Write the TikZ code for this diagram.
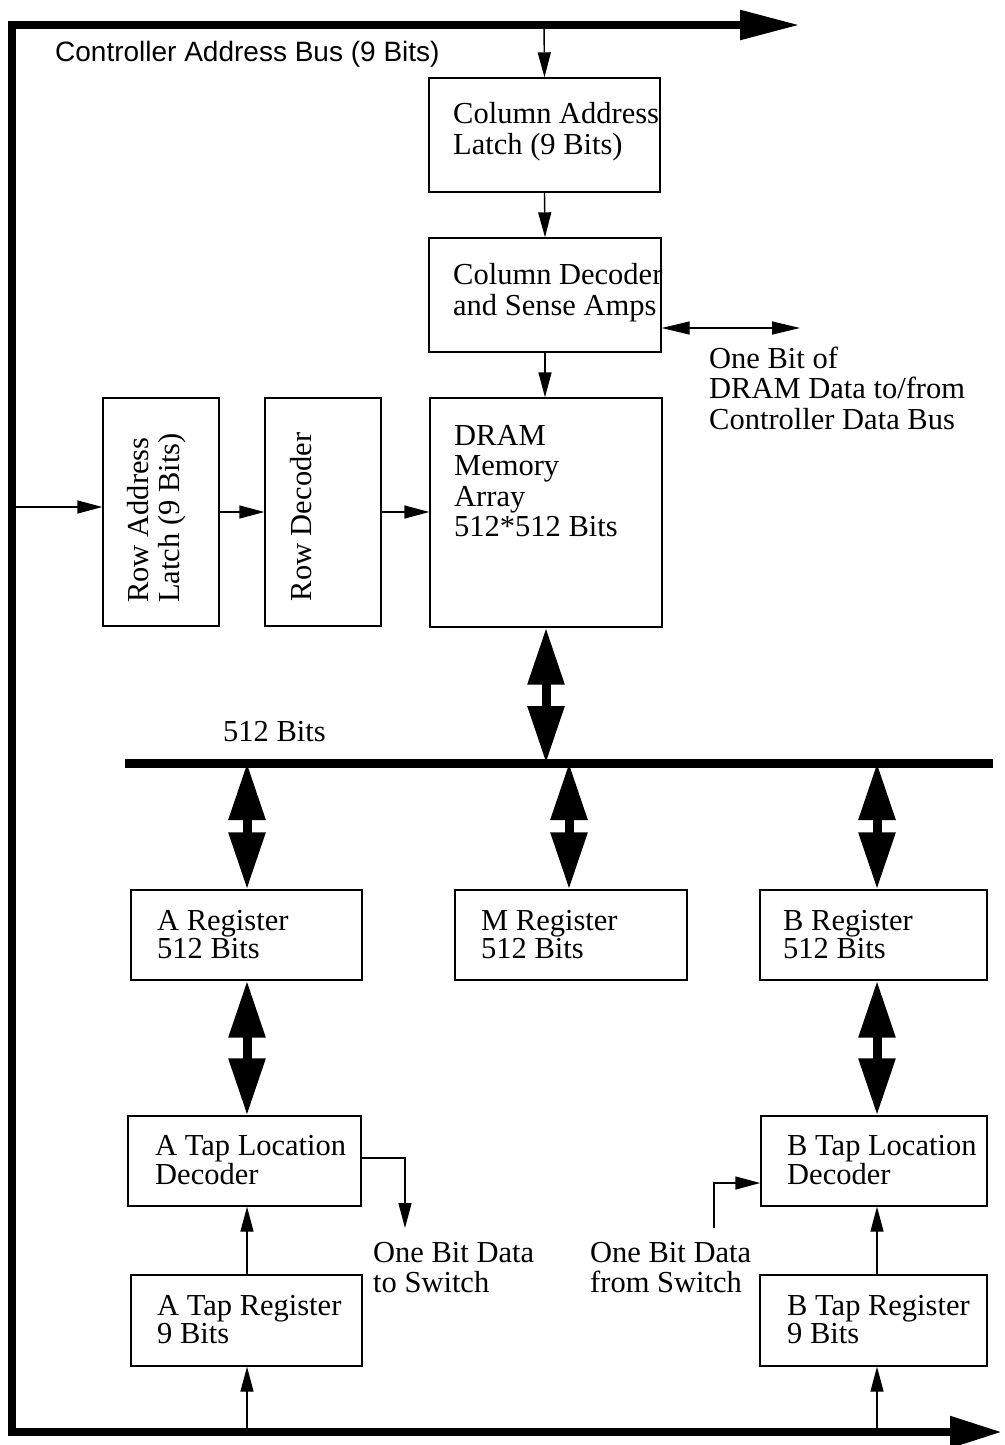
\documentclass[tikz,border=0pt]{standalone}
\usepackage{fontspec}
\setmainfont{Liberation Serif}
\newfontfamily\busfont{Liberation Sans}
\usetikzlibrary{arrows.meta,calc}

% Multi-line labels are anchored at the baseline of their last line.
\tikzset{
  box/.style={draw, line width=1.4pt, inner sep=0pt},
  lbl/.style={inner sep=0pt, anchor=base west, align=left,
              font=\fontsize{30.5}{30.5}\selectfont},
  reglbl/.style={lbl, font=\fontsize{30.5}{24}\selectfont},
  rotlbl/.style={inner sep=0pt, rotate=90, align=left,
                 font=\fontsize{30.5}{31}\selectfont},
  arr/.style={line width=1.4pt, -{Triangle[length=25pt,width=13pt]}},
  dblarr/.style={line width=1.4pt,
                 {Triangle[length=28pt,width=13pt]}-{Triangle[length=28pt,width=13pt]}},
  fat/.style={line width=9pt,
              {Triangle[length=57pt,width=35pt]}-{Triangle[length=57pt,width=35pt]}},
  bus/.style={line width=8.5pt, line join=miter},
}

\begin{document}
\begin{tikzpicture}[x=1pt,y=-1pt]
\useasboundingbox (0,0) rectangle (1004,1445);

% ---- blocks ----
\node[box, minimum width=231pt, minimum height=114pt] (cal)  at (544.5,135) {};
\node[box, minimum width=232pt, minimum height=114pt] (cdec) at (545,295) {};
\node[box, minimum width=232pt, minimum height=229pt] (dram) at (546,512.5) {};
\node[box, minimum width=116pt, minimum height=228pt] (ral)  at (161,512) {};
\node[box, minimum width=116pt, minimum height=228pt] (rdec) at (323,512) {};

\node[box, minimum width=231pt, minimum height=90pt] (areg) at (246.5,935) {};
\node[box, minimum width=232pt, minimum height=90pt] (mreg) at (571,935) {};
\node[box, minimum width=227pt, minimum height=90pt] (breg) at (873.5,935) {};

\node[box, minimum width=233pt, minimum height=90pt] (atld) at (244.5,1161) {};
\node[box, minimum width=226pt, minimum height=90pt] (btld) at (874,1161) {};

\node[box, minimum width=231pt, minimum height=91pt] (atr) at (246.5,1320.5) {};
\node[box, minimum width=227pt, minimum height=91pt] (btr) at (873.5,1320.5) {};

% ---- texts ----
\node[inner sep=0pt, anchor=base west, font=\busfont\fontsize{28}{28}\selectfont]
  (buslbl) at (55,62) {Controller Address Bus (9 Bits)};
\node[lbl] (caltxt)  at (453,154) {Column Address\\Latch (9 Bits)};
\node[lbl] (cdectxt) at (453,315) {Column Decoder\\and Sense Amps};
\node[lbl] (datatxt) at (709,429) {One Bit of\\DRAM Data to/from\\Controller Data Bus};
\node[lbl] (dramtxt) at (454,536.5) {DRAM\\Memory\\Array\\512*512 Bits};
\node[rotlbl] (raltxt)  at (157,518) {Row Address\\Latch (9 Bits)};
\node[rotlbl] (rdectxt) at (301,517) {Row Decoder};
\node[lbl] (b512txt) at (223,741) {512 Bits};
\node[reglbl] (aregtxt) at (157,958) {A Register\\512 Bits};
\node[reglbl] (mregtxt) at (481,958) {M Register\\512 Bits};
\node[reglbl] (bregtxt) at (783,958) {B Register\\512 Bits};
\node[reglbl] (atldtxt) at (155,1184) {A Tap Location\\Decoder};
\node[reglbl] (btldtxt) at (787,1184) {B Tap Location\\Decoder};
\node[lbl] (aouttxt) at (373,1292.5) {One Bit Data\\to Switch};
\node[lbl] (bintxt)  at (590,1292.5) {One Bit Data\\from Switch};
\node[reglbl] (atrtxt) at (157,1343) {A Tap Register\\9 Bits};
\node[reglbl] (btrtxt) at (787,1343) {B Tap Register\\9 Bits};

% ---- controller address bus (top, left side, bottom) ----
\coordinate (topend) at (800,25);
\coordinate (tl) at (12,25);
\coordinate (bl) at (12,1432);
\coordinate (botend) at (1002,1432);
\draw[bus, {Triangle[length=60pt,width=28pt]}-{Triangle[length=52pt,width=30pt]}]
  (topend) -- (tl) -- (bl) -- (botend);

% ---- 512-bit internal bus ----
\coordinate (b512w) at (125,763);
\coordinate (b512e) at (993,763);
\draw[line width=9pt] (b512w) -- (b512e);

% ---- address connections ----
\coordinate (coltap) at (544,25);
\draw[arr] (coltap) -- (cal.north);
\draw[arr] (cal.south) -- (cdec.north);
\draw[arr] (cdec.south) -- (cdec.south |- dram.north);
\coordinate (rowtap) at (16,507);
\draw[arr] (rowtap) -- (ral.west |- rowtap);
\draw[arr] (ral.east) -- (rdec.west);
\draw[arr] (rdec.east) -- (dram.west |- rdec.east);

% ---- data bit to/from controller ----
\coordinate (dataend) at (800,328);
\draw[dblarr] (cdec.east |- dataend) -- (dataend);

% ---- wide transfers ----
\draw[fat] (dram.south) -- (dram.south |- b512w);
\coordinate (acol) at (247,0);
\coordinate (mcol) at (569,0);
\coordinate (bcol) at (877,0);
\draw[fat] (acol |- b512w) -- (acol |- areg.north);
\draw[fat] (mcol |- b512w) -- (mcol |- mreg.north);
\draw[fat] (bcol |- b512w) -- (bcol |- breg.north);
\draw[fat] (acol |- areg.south) -- (acol |- atld.north);
\draw[fat] (bcol |- breg.south) -- (bcol |- btld.north);

% ---- tap logic ----
\coordinate (aout) at (405,1228);
\draw[arr] (atld.east |- 0,1158) -| (aout);
\coordinate (bin) at (714,1228);
\draw[arr] (bin) |- (btld.west |- 0,1183);
\draw[arr] (acol |- atr.north) -- (acol |- atld.south);
\draw[arr] (bcol |- btr.north) -- (bcol |- btld.south);
\draw[arr] (acol |- bl) -- (acol |- atr.south);
\draw[arr] (bcol |- bl) -- (bcol |- btr.south);
\end{tikzpicture}
\end{document}
